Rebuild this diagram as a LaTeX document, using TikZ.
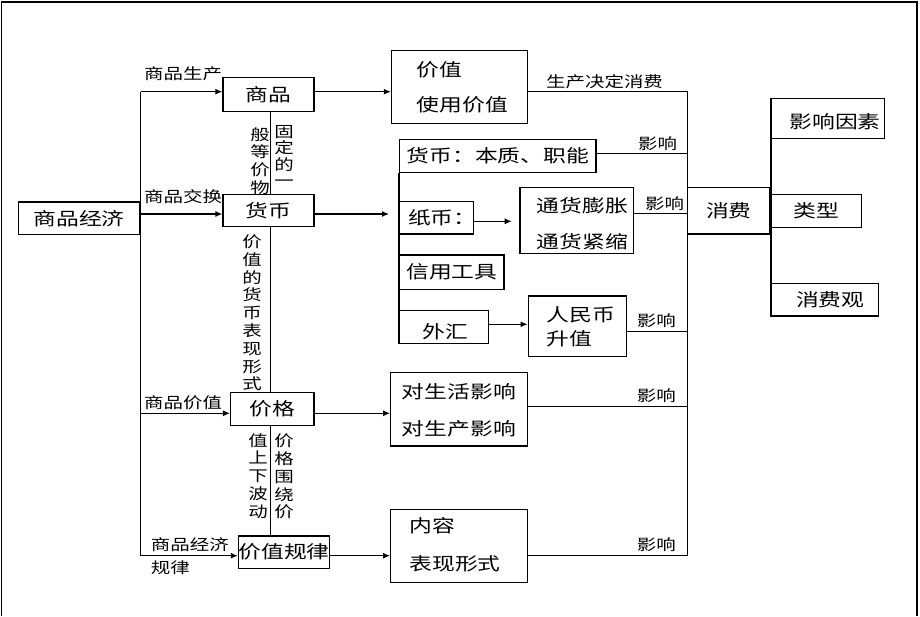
\documentclass[tikz,border=0pt]{standalone}
\usepackage{fontspec}
\newfontfamily\cjk[FakeStretch=1.28]{Noto Sans CJK SC}
\usetikzlibrary{arrows.meta,backgrounds}
\newcommand\mybig{\fontsize{17.8}{20}\selectfont\cjk}
\newcommand\mysmall{\fontsize{15.2}{17}\selectfont\cjk}
\newcommand\myvert{\fontsize{15.2}{17.8}\selectfont\cjk}
\newcommand\myvertb{\fontsize{15.2}{16.2}\selectfont\cjk}
\newcommand\bx[6]{\node[box, minimum width={(#4-#2)*1pt}, minimum height={(#5-#3)*1pt}] (#1) at ({(#2+#4)/2},{(#3+#5)/2}) {#6};}
\tikzset{
 box/.style={draw, line width=1.3pt, fill=white, inner sep=0pt, font=\mybig},
 lab/.style={inner sep=0pt, font=\mysmall, anchor=west},
 txt/.style={inner sep=0pt, font=\mybig, anchor=west},
 vlab/.style={inner sep=0pt, align=center, font=\myvert},
 vlabb/.style={inner sep=0pt, align=center, font=\myvertb},
 conn/.style={line width=1.2pt},
 arr/.style={conn, -{Latex[length=7pt,width=6pt]}},
}
\begin{document}
\begin{tikzpicture}[x=1pt,y=-1pt]
\useasboundingbox (0,0) rectangle (920,616);
% frame
\draw[line width=1.6pt] (1.5,616) -- (1.5,2) -- (916.7,2) -- (916.7,616);

% small labels
\node[lab] (l1) at (144,74) {商品生产};
\node[lab] (l2) at (144,196.7) {商品交换};
\node[lab] (l3) at (144,403) {商品价值};
\node[lab] (l4) at (150.7,545) {商品经济};
\node[lab] (l5) at (150.7,567.7) {规律};
\node[lab] (l6) at (546,81.7) {生产决定消费};
\node[lab] (i1) at (638,143.3) {影响};
\node[lab] (i2) at (645,204) {影响};
\node[lab] (i3) at (636.7,320.7) {影响};
\node[lab] (i4) at (636.7,396) {影响};
\node[lab] (i5) at (636.7,545) {影响};

% vertical labels
\node[vlabb] (v2) at (284,156) {固\\定\\的\\一};
\node[vlab] (v3) at (260,161) {般\\等\\价\\物};
\node[vlab] (v1) at (252,313) {价\\值\\的\\货\\币\\表\\现\\形\\式};
\node[vlab] (v4) at (258,476) {值\\上\\下\\波\\动};
\node[vlab] (v5) at (284,476.5) {价\\格\\围\\绕\\价};

% boxes
\bx{spjj}{18.8}{202}{139.6}{234.5}{商品经济}
\bx{sp}{223}{77.5}{314}{111.7}{商品}
\bx{hb}{223}{194.3}{314}{226.7}{货币}
\bx{jg}{230.6}{392.3}{314}{425.7}{价格}
\bx{jzgl}{239.4}{536}{328.6}{568.3}{价值规律}
\bx{jz}{391.5}{50.7}{527.5}{123.5}{}
\node[txt] (t1) at (416.7,69.3) {价值};
\node[txt] (t2) at (416.7,105) {使用价值};
\bx{hbbz}{399.6}{139.3}{596}{172.7}{货币：本质、职能}
\bx{zb}{399.6}{201.7}{473.3}{234}{}
\node[txt] (t3) at (408,218) {纸币：};
\bx{xy}{399.6}{255}{504}{289.3}{信用工具}
\bx{wh}{399.6}{310.7}{488.7}{343.3}{}
\node[txt, anchor=center] (t4) at (445,332) {外汇};
\bx{th}{520}{187.3}{633.3}{253.3}{}
\node[txt] (t5) at (536.7,206) {通货膨胀};
\node[txt] (t6) at (536.7,241.7) {通货紧缩};
\bx{rmb}{528.3}{296}{626.7}{356.7}{}
\node[txt] (t7) at (546.7,315) {人民币};
\node[txt] (t8) at (546.7,338.3) {升值};
\bx{dsh}{390.7}{372.7}{527.7}{446}{}
\node[txt] (t9) at (401.7,391.7) {对生活影响};
\node[txt] (t10) at (401.7,428.3) {对生产影响};
\bx{nr}{390.7}{509.3}{527.7}{582.7}{}
\node[txt] (t11) at (409.3,525.7) {内容};
\node[txt] (t12) at (409.3,564) {表现形式};
\bx{xf}{687.7}{187.7}{770}{234}{消费}
\bx{yx}{771.7}{98.3}{884.3}{138.3}{}
\node[txt] (t13) at (789.3,122) {影响因素};
\bx{lx}{771.7}{194.3}{861.7}{227.3}{类型}
\bx{xfg}{771.7}{283.3}{878.3}{316}{}
\node[txt] (t14) at (796,300) {消费观};

% coordinates
\coordinate (tA) at (140.8,91.7);
\coordinate (tB) at (140.8,214);
\coordinate (tC) at (140.8,413.3);
\coordinate (tD) at (140.8,555.7);
\coordinate (vX) at (270.7,0);
\coordinate (hbEnd) at (389,214);
\coordinate (zbY) at (0,221.3);
\coordinate (zbEnd) at (511.7,221.3);
\coordinate (whY) at (0,324.3);
\coordinate (rT) at (687.7,91.7);
\coordinate (rB) at (687.7,555.7);
\coordinate (y1) at (0,153.3);
\coordinate (y2) at (0,213.3);
\coordinate (y3) at (0,331.7);
\coordinate (y4) at (0,406.7);

\begin{pgfonlayer}{background}
\draw[conn] (tA) -- (tD);
\draw[arr] (tA) -- (tA -| sp.west);
\draw[arr] (tB) -- (tB -| hb.west);
\draw[arr] (tC) -- (tC -| jg.west);
\draw[arr] (tD) -- (tD -| jzgl.west);
\draw[conn] (sp.south -| vX) -- (jzgl.north -| vX);
\draw[arr] (sp.east |- tA) -- (jz.west |- tA);
\draw[arr] (hb.east |- tB) -- (hbEnd);
\draw[arr] (jg.east |- tC) -- (dsh.west |- tC);
\draw[arr] (jzgl.east |- tD) -- (nr.west |- tD);
\draw[conn] (hbbz.south west) -- (wh.south west);
\draw[arr] (zb.east |- zbY) -- (zbEnd);
\draw[arr] (wh.east |- whY) -- (rmb.west |- whY);
\draw[conn] (jz.east |- tA) -- (rT) -- (rB) -- (nr.east |- rB);
\draw[conn] (hbbz.east |- y1) -- (rT |- y1);
\draw[conn] (th.east |- y2) -- (rT |- y2);
\draw[conn] (rmb.east |- y3) -- (rT |- y3);
\draw[conn] (dsh.east |- y4) -- (rT |- y4);
\draw[conn] (yx.north west) -- (xfg.south west);
\end{pgfonlayer}
\end{tikzpicture}
\end{document}
